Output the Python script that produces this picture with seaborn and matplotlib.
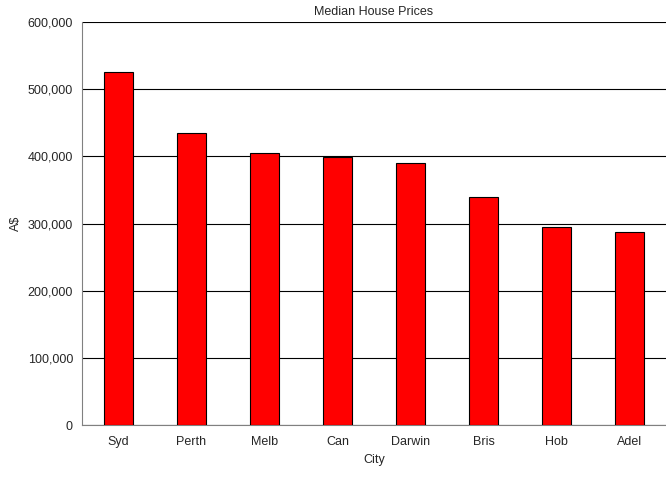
import matplotlib
matplotlib.use("Agg")
import matplotlib.pyplot as plt
import matplotlib.ticker as mticker
import seaborn as sns
import pandas as pd

cities = ["Syd", "Perth", "Melb", "Can", "Darwin", "Bris", "Hob", "Adel"]
prices = [526000, 435000, 405000, 399000, 390000, 339000, 295000, 287000]

df = pd.DataFrame({"City": cities, "Price": prices})

sns.set_style("white")
plt.rcParams["font.family"] = ["Liberation Sans", "DejaVu Sans"]

fig = plt.figure(figsize=(6.66, 4.83), dpi=100)
ax = fig.add_axes([82 / 666, 1 - 425 / 483, 584 / 666, 403 / 483])
sns.barplot(data=df, x="City", y="Price", color="#ff0000", saturation=1,
            width=0.41, edgecolor="black", linewidth=0.8, ax=ax, zorder=3)

ax.set_ylim(0, 600000)
ax.set_yticks(range(0, 600001, 100000))
ax.yaxis.set_major_formatter(mticker.FuncFormatter(lambda v, p: f"{int(v):,}"))
ax.grid(axis="y", color="black", linewidth=0.8, zorder=0)
ax.set_axisbelow(True)
for s in ["top", "right"]:
    ax.spines[s].set_visible(False)
for s in ["left", "bottom"]:
    ax.spines[s].set_color("#808080")
ax.tick_params(axis="both", labelsize=9, length=3, direction="out", color="#808080")
ax.tick_params(axis="x", length=0, pad=8)
ax.set_xlabel("City", fontsize=9)
ax.set_ylabel("A$", fontsize=9)
ax.set_title("Median House Prices", fontsize=9, pad=5)

fig.savefig("out.png", dpi=100)
